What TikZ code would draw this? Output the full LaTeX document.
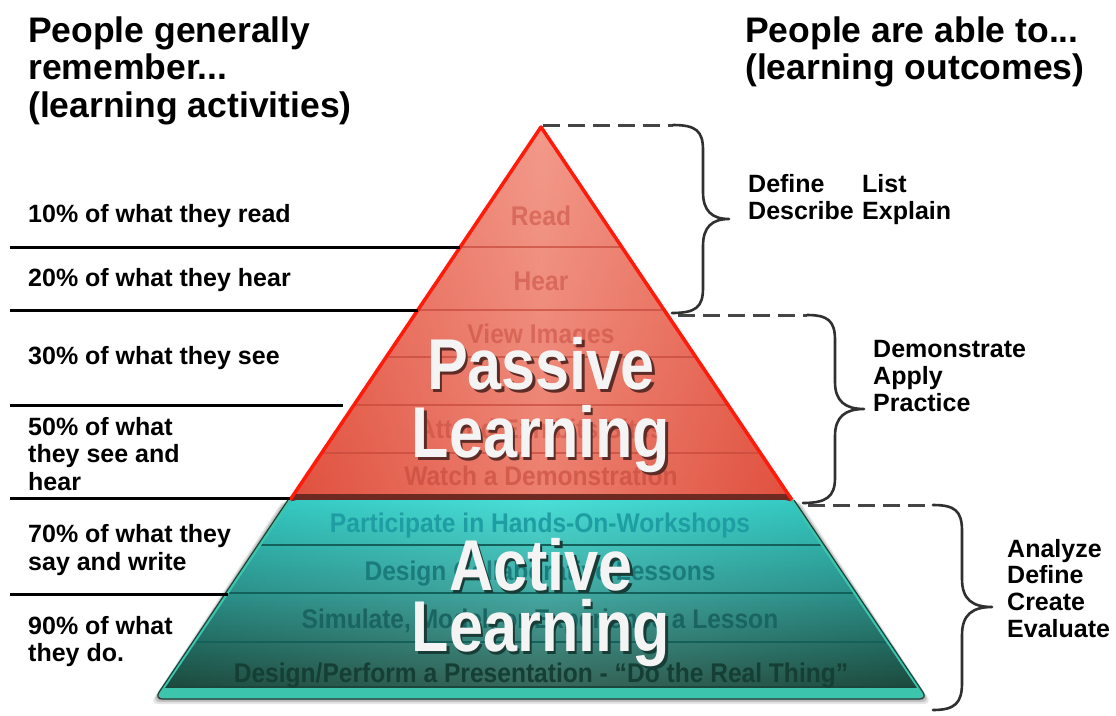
\documentclass[tikz,border=0pt]{standalone}
\usepackage{fontspec}
\setmainfont{Liberation Sans}
\usetikzlibrary{calc}
\definecolor{redEdge}{HTML}{FF1A0A}
\definecolor{redDark}{HTML}{E0503E}
\definecolor{redLight}{HTML}{F29484}
\definecolor{redLine}{HTML}{C64A3C}
\definecolor{redBand}{HTML}{6E2A20}
\definecolor{redTxt}{HTML}{C4483A}
\definecolor{redShadow}{HTML}{5E2C26}
\definecolor{tealTop}{HTML}{30DAD2}
\definecolor{tealMid}{HTML}{2A9C94}
\definecolor{tealBot}{HTML}{1E5042}
\definecolor{tealLine}{HTML}{14605A}
\definecolor{tealRim}{HTML}{3CC4AC}
\definecolor{tealOut}{HTML}{1A463C}
\definecolor{tealShadow}{HTML}{183C36}
\definecolor{tTxtA}{HTML}{1E9EA2}
\definecolor{tTxtB}{HTML}{1A7C7C}
\definecolor{tTxtC}{HTML}{1A6462}
\definecolor{tTxtD}{HTML}{153E34}
\definecolor{inkgray}{HTML}{303030}
\definecolor{bigwhite}{HTML}{F4F4F4}
\newcommand{\shadowtext}[2]{\makebox[0pt][l]{\hspace{3pt}\raisebox{-3.5pt}{\textcolor{#1}{#2}}}#2}
\begin{document}
\begin{tikzpicture}[x=1pt,y=-1pt,
  head/.style={font=\fontsize{35.5}{37.5}\selectfont\bfseries, anchor=base west, inner sep=0pt},
  lab/.style={font=\fontsize{25}{27}\selectfont\bfseries, anchor=base west, inner sep=0pt},
  rulestyle/.style={line width=3pt, black},
  rowtxt/.style={font=\fontsize{27}{27}\selectfont\bfseries, xscale=.91, inner sep=0pt, anchor=base},
  bigtxt/.style={font=\fontsize{72}{72}\selectfont\bfseries, xscale=.85, inner sep=0pt, anchor=base, text=bigwhite},
  bracepath/.style={line width=2.6pt, draw=inkgray, line cap=round, line join=round},
  dashline/.style={line width=3pt, draw=inkgray!90, dash pattern=on 17pt off 8pt}
]
\useasboundingbox (0,0) rectangle (1116,715);
\fill[white] (0,0) rectangle (1116,715);

% ---------- headings ----------
\node[head] (hl1) at (28,42) {People generally};
\node[head] (hl2) at (28,79.5) {remember...};
\node[head] (hl3) at (28,117) {(learning activities)};
\node[head] (hr1) at (745,42) {People are able to...};
\node[head] (hr2) at (745,79.5) {(learning outcomes)};

% ---------- pyramid coordinates ----------
\coordinate (A) at (541,127);
\coordinate (RL) at (290,500);
\coordinate (RR) at (792,500);
\coordinate (TL) at (157,697);
\coordinate (TR) at (925,697);

% ---------- shadow ----------
\foreach \o/\op in {7/.10,5/.15,3/.22}{
  \fill[black, opacity=\op, rounded corners=8pt]
    ($(RL)+(-\o,0)$) -- ($(RR)+(\o,0)$) -- ($(TR)+(\o,\o)$) -- ($(TL)+(-\o,\o)$) -- cycle;
}

% ---------- red triangle ----------
\begin{scope}
  \clip (A) -- (RR) -- (RL) -- cycle;
  \shade[left color=redDark, right color=redDark, middle color=redLight] (290,120) rectangle (792,500);
  \shade[top color=redLight!80!white, bottom color=redDark, opacity=.3] (290,120) rectangle (792,500);
  \foreach \y/\xa/\xb in {247/460.2/621.8, 310/417.8/664.2, 357/386.2/695.8, 405/353.9/728.1, 453/321.6/760.4}{
    \draw[redLine, line width=1.2pt, opacity=.7] (\xa,\y) -- (\xb,\y);
  }
\end{scope}
\fill[redBand] (294,494) -- (788,494) -- (793,501) -- (289,501) -- cycle;
\draw[redEdge, line width=3.5pt, line join=round] (RL) -- (A) -- (RR);

% ---------- teal trapezoid ----------
\begin{scope}
  \clip[rounded corners=8pt] (RL) -- (RR) -- (TR) -- (TL) -- cycle;
  \shade[top color=tealTop, bottom color=tealBot, middle color=tealMid] (150,500) rectangle (930,690);
  \shade[left color=black, right color=black, middle color=white, opacity=.12] (150,500) rectangle (930,700);
  \fill[tealRim] (150,687) rectangle (930,700);
  \foreach \y/\xa/\xb in {545/259.7/822.3, 593/227.4/854.6, 642/194.4/887.6}{
    \draw[tealLine, line width=2.5pt] (\xa,\y) -- (\xb,\y);
  }
  \draw[tealOut, line width=2pt] (150,687) -- (930,687);
\end{scope}
\draw[tealRim, line width=3pt, rounded corners=8pt] (RL) -- (TL) -- (TR) -- (RR);
\draw[tealOut, line width=1.2pt, rounded corners=8pt] ($(RL)+(-2,0)$) -- ($(TL)+(-2.5,2)$) -- ($(TR)+(2.5,2)$) -- ($(RR)+(2,0)$);

% ---------- row texts ----------
\node[rowtxt, text=redTxt, opacity=.5] (r1) at (541,225) {Read};
\node[rowtxt, text=redTxt, opacity=.5] (r2) at (541,290) {Hear};
\node[rowtxt, text=redTxt, opacity=.5] (r3) at (541,343) {View Images};
\node[rowtxt, text=redTxt, opacity=.5] (r5) at (541,438) {Attend Exhibits/Sites};
\node[rowtxt, text=redTxt, opacity=.6] (r6) at (541,485) {Watch a Demonstration};
\node[rowtxt, text=tTxtA] (t1) at (540,532) {Participate in Hands-On-Workshops};
\node[rowtxt, text=tTxtB] (t2) at (540,580) {Design Collaborative Lessons};
\node[rowtxt, text=tTxtC] (t3) at (540,628) {Simulate, Model, or Experience a Lesson};
\node[rowtxt, text=tTxtD] (t4) at (541,682) {Design/Perform a Presentation - ``Do the Real Thing''};

% ---------- big labels ----------
\node[bigtxt] (p1) at (541,389) {\shadowtext{redShadow}{Passive}};
\node[bigtxt] (p2) at (541,457) {\shadowtext{redShadow}{Learning}};
\node[bigtxt] (a1) at (541,590) {\shadowtext{tealShadow}{Active}};
\node[bigtxt] (a2) at (541,651) {\shadowtext{tealShadow}{Learning}};

% ---------- left rules ----------
\coordinate (la1) at (10,247);  \coordinate (lb1) at (460,247);
\coordinate (la2) at (10,310);  \coordinate (lb2) at (418,310);
\coordinate (la3) at (10,405);  \coordinate (lb3) at (343,405);
\coordinate (la4) at (10,498.5);  \coordinate (lb4) at (290,498.5);
\coordinate (la5) at (10,594);  \coordinate (lb5) at (228,594);
\foreach \i in {1,...,5}{ \draw[rulestyle] (la\i) -- (lb\i); }

% ---------- left labels ----------
\node[lab] (L1) at (28,222) {10\% of what they read};
\node[lab] (L2) at (28,286) {20\% of what they hear};
\node[lab] (L3) at (28,364) {30\% of what they see};
\node[lab] (L4a) at (28,435) {50\% of what};
\node[lab] (L4b) at (28,462.5) {they see and};
\node[lab] (L4c) at (28,490) {hear};
\node[lab] (L5a) at (28,542) {70\% of what they};
\node[lab] (L5b) at (28,570) {say and write};
\node[lab] (L6a) at (28,634) {90\% of what};
\node[lab] (L6b) at (28,661) {they do.};

% ---------- dashed lines and braces ----------
\coordinate (d1a) at (543,125); \coordinate (b1s) at (673,125); \coordinate (b1e) at (672,313);
\coordinate (d2a) at (678,315); \coordinate (b2s) at (807,315); \coordinate (b2e) at (803,503);
\coordinate (d3a) at (808,505); \coordinate (b3s) at (933,505); \coordinate (b3e) at (933,710);
\draw[dashline] (d1a) -- (b1s);
\draw[dashline] (d2a) -- (b2s);
\draw[dashline] (d3a) -- (b3s);

\draw[bracepath] (b1s) .. controls (696,125) and (703,131) .. (703,150)
  -- (703,192) .. controls (703,211) and (712,219) .. (729,219)
  .. controls (712,219) and (703,227) .. (703,246)
  -- (703,288) .. controls (703,307) and (696,313) .. (b1e);
\draw[bracepath] (b2s) .. controls (828,315) and (835,321) .. (835,340)
  -- (835,382) .. controls (835,401) and (845,409) .. (864,409)
  .. controls (845,409) and (835,417) .. (835,436)
  -- (835,478) .. controls (835,497) and (826,503) .. (b2e);
\draw[bracepath] (b3s) .. controls (955,505) and (962,511) .. (962,531)
  -- (962,579) .. controls (962,599) and (972,607) .. (992,607)
  .. controls (972,607) and (962,615) .. (962,635)
  -- (962,683) .. controls (962,703) and (955,710) .. (b3e);

% ---------- right labels ----------
\node[lab] (o1) at (748,192) {Define};
\node[lab] (o2) at (862,192) {List};
\node[lab] (o3) at (748,219) {Describe};
\node[lab] (o4) at (862,219) {Explain};
\node[lab] (o5) at (873,357) {Demonstrate};
\node[lab] (o6) at (873,384) {Apply};
\node[lab] (o7) at (873,411) {Practice};
\node[lab] (o8) at (1007,557) {Analyze};
\node[lab] (o9) at (1007,583.5) {Define};
\node[lab] (o10) at (1007,610) {Create};
\node[lab] (o11) at (1007,637) {Evaluate};
\end{tikzpicture}
\end{document}
